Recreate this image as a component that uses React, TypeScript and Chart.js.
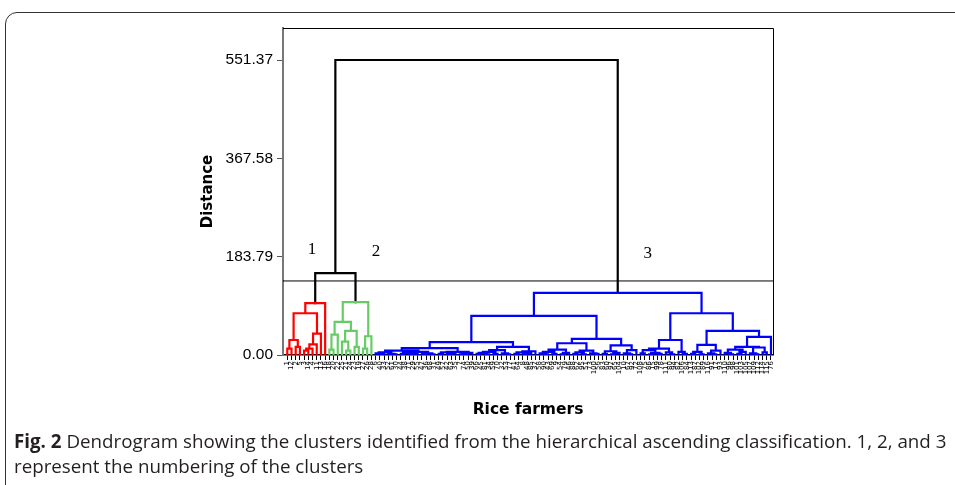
import React, { useEffect, useRef } from "react";
import { Chart, registerables } from "chart.js";
Chart.register(...registerables);

// ---- data ----
const yTickValues = [0, 183.79, 367.58, 551.37];
const yMax = 611.2;
const cutHeight = 138.4;

// merge heights between neighbouring leaves (leaf order as in the figure)
const redGaps = [12, 28, 15, 78, 8, 12, 20, 40, 97];
const redGreenLink = 153;
const greenGaps = [10, 38, 62, 25, 8, 45, 15, 99, 12, 35];
const rootLink = 551.37;
const blueGaps = [
  3, 1, 5, 2, 1, 8, 2, 4, 1, 3, 6, 2, 3, 1,
  13,
  2, 5, 1, 3, 6, 1, 2, 4,
  24,
  2, 4, 1, 6, 2, 9, 3, 1, 15, 2, 5, 1, 3, 7,
  73,
  3, 1, 6, 2, 10, 1, 4, 22, 2, 5, 1, 8, 3, 2,
  30,
  2, 7, 1, 4, 18, 3, 1, 9,
  116,
  3, 9, 1, 4, 2, 12, 5, 1,
  28,
  6, 2,
  78,
  2, 6, 1, 19, 3, 1, 8,
  45,
  4, 1, 10, 2, 6, 15, 3, 1, 14, 5,
  34,
];

const leafLabels = [
  "1", "12", "2", "5", "3", "14", "4", "11", "13", "16",
  "18", "20", "22", "25", "21", "24", "23", "19", "27", "26", "28",
  "6", "40", "33", "52", "61", "30", "44", "38", "71", "29", "55", "47", "36", "68", "31", "49", "57", "42", "63", "35",
  "7", "74", "50", "39", "66", "45", "81", "34", "59", "70", "32", "53", "77", "41", "64", "8", "48", "85", "37", "58",
  "90", "43", "69", "9", "54", "79", "46", "88", "62", "95", "51", "73", "100", "56", "83", "60", "97", "65", "104", "10",
  "67", "92", "72", "108", "75", "86", "15", "99", "78", "111", "80", "94", "82", "106", "84", "113", "87", "102", "89", "116",
  "91", "17", "93", "110", "96", "98", "101", "103", "105", "107", "109", "112", "114", "115", "76",
];

const clusterNames = ["1", "2", "3"];
const clusterStartLeaf = [0, 10, 21];
const clusterColors = ["#ff0000", "#66cc66", "#0000ff"];
const clusterLabelLeaf = [5.9, 21.1, 85.7];
const clusterLabelHeight = [198, 194, 189];

// ---- tree building ----
type Pt = { x: number; y: number | null };
function buildSegments() {
  const gaps = [...redGaps, redGreenLink, ...greenGaps, rootLink, ...blueGaps];
  const segs: Pt[][] = [[], [], [], []]; // red, green, blue, black
  const clusterOf = (leaf: number) => {
    let c = 0;
    clusterStartLeaf.forEach((s, i) => { if (leaf >= s) c = i; });
    return c;
  };
  const rec = (lo: number, hi: number): { x: number; h: number } => {
    if (lo === hi) return { x: lo, h: 0 };
    let k = lo;
    for (let i = lo; i < hi; i++) if (gaps[i] > gaps[k]) k = i;
    const h = gaps[k];
    const L = rec(lo, k);
    const R = rec(k + 1, hi);
    const idx = h > cutHeight ? 3 : clusterOf(lo);
    segs[idx].push({ x: L.x, y: L.h }, { x: L.x, y: h }, { x: R.x, y: h }, { x: R.x, y: R.h }, { x: R.x, y: null });
    return { x: (L.x + R.x) / 2, h };
  };
  rec(0, leafLabels.length - 1);
  return segs;
}

const framePlugin = {
  id: "frameAndLabels",
  afterDatasetsDraw(chart: any) {
    const { ctx, chartArea: a, scales } = chart;
    ctx.save();
    ctx.strokeStyle = "#000";
    ctx.lineWidth = 1;
    ctx.beginPath();
    ctx.moveTo(a.left, a.top + 0.5);
    ctx.lineTo(a.right + 0.5, a.top + 0.5);
    ctx.lineTo(a.right + 0.5, a.bottom);
    ctx.stroke();
    ctx.fillStyle = "#000";
    ctx.font = "17px 'Liberation Serif'";
    ctx.textAlign = "center";
    ctx.textBaseline = "middle";
    clusterNames.forEach((n, i) => {
      ctx.fillText(n, scales.x.getPixelForValue(clusterLabelLeaf[i]), scales.y.getPixelForValue(clusterLabelHeight[i]));
    });
    ctx.restore();
  },
};

export default function App() {
  const ref = useRef<HTMLCanvasElement>(null);
  useEffect(() => {
    const segs = buildSegments();
    const n = leafLabels.length;
    const lineDs = (data: Pt[], color: string, width: number) => ({
      data,
      borderColor: color,
      borderWidth: width,
      pointRadius: 0,
      spanGaps: false,
      tension: 0,
      borderJoinStyle: "miter" as const,
      borderCapStyle: "square" as const,
    });
    const chart = new Chart(ref.current!, {
      type: "line",
      data: {
        datasets: [
          lineDs([{ x: -1.02, y: cutHeight }, { x: n - 0.52, y: cutHeight }], "#000", 1),
          lineDs(segs[0], clusterColors[0], 2.2),
          lineDs(segs[1], clusterColors[1], 2.2),
          lineDs(segs[2], clusterColors[2], 2.2),
          lineDs(segs[3], "#000", 2.2),
        ],
      },
      options: {
        animation: false,
        responsive: false,
        maintainAspectRatio: false,
        layout: { padding: { left: 0, top: 28, right: 182, bottom: 0 } },
        plugins: { legend: { display: false }, tooltip: { enabled: false } },
        scales: {
          x: {
            type: "linear",
            min: -1.02,
            max: n - 0.52,
            afterBuildTicks: (s: any) => { s.ticks = leafLabels.map((_, i) => ({ value: i })); },
            afterFit: (s: any) => { s.height = 130; },
            border: { color: "#000", width: 1.5 },
            grid: { drawOnChartArea: false, tickLength: 5, color: "#000" },
            ticks: {
              autoSkip: false,
              minRotation: 90,
              maxRotation: 90,
              padding: 1,
              color: "#000",
              font: { size: 7, family: "'DejaVu Sans'" },
              callback: (v: any) => leafLabels[v] ?? "",
            },
            title: {
              display: true,
              text: "Rice farmers",
              color: "#000",
              font: { size: 15.5, weight: "bold", family: "'DejaVu Sans'" },
              padding: { top: 0, bottom: 65.7 },
            },
          },
          y: {
            type: "linear",
            min: 0,
            max: yMax,
            afterBuildTicks: (s: any) => { s.ticks = yTickValues.map((v) => ({ value: v })); },
            afterFit: (s: any) => { s.width = 283; },
            border: { color: "#777", width: 2 },
            grid: { drawOnChartArea: false, tickLength: 6, color: "#555" },
            ticks: {
              padding: 4,
              color: "#000",
              font: { size: 15.5, family: "'Liberation Sans'" },
              callback: (v: any) => Number(v).toFixed(2),
            },
            title: {
              display: true,
              text: "Distance",
              color: "#000",
              font: { size: 15, weight: "bold", family: "'DejaVu Sans'" },
              padding: { top: 199, bottom: 0 },
            },
          },
        },
      },
      plugins: [framePlugin],
    } as any);
    return () => chart.destroy();
  }, []);

  return (
    <div style={{ position: "absolute", left: 0, top: 0, width: 955, height: 485, overflow: "hidden", background: "#fff" }}>
      <div
        style={{
          position: "absolute", left: 5, top: 12, width: 980, height: 500,
          border: "1.5px solid #333", borderRadius: 12, boxSizing: "border-box",
        }}
      />
      <canvas ref={ref} width={955} height={485} style={{ position: "absolute", left: 0, top: 0, width: 955, height: 485 }} />
      <div
        style={{
          position: "absolute", left: 14, top: 428, width: 945, whiteSpace: "nowrap",
          fontFamily: "'Open Sans', sans-serif", fontSize: 18.75, lineHeight: "25px", color: "#231f20",
        }}
      >
        <b>Fig. 2</b> Dendrogram showing the clusters identified from the hierarchical ascending classification. 1, 2, and 3
        <br />
        represent the numbering of the clusters
      </div>
    </div>
  );
}
